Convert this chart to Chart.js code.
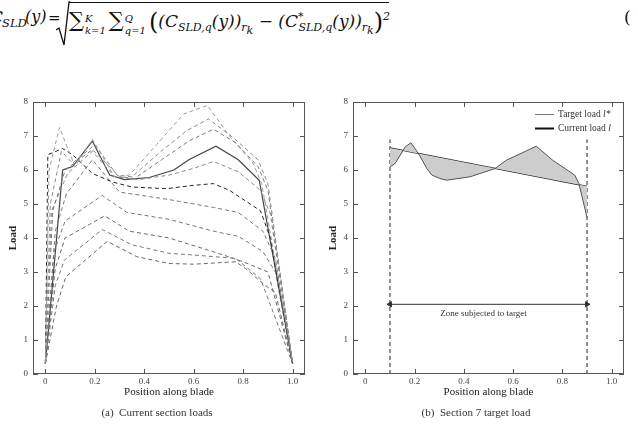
<!DOCTYPE html>
<html>
<head>
<meta charset="utf-8">
<script src="https://cdn.jsdelivr.net/npm/chart.js@4.4.1/dist/chart.umd.min.js"></script>
<style>
  html, body { margin: 0; padding: 0; background: #fff; }
  body { width: 638px; height: 424px; position: relative; overflow: hidden; font-family: 'Liberation Serif', serif; }
  .box { position: absolute; top: 80px; height: 344px; }
  .eq { position: absolute; font-family: 'DejaVu Serif', serif; font-style: italic; font-size: 17px; white-space: nowrap; color: #111; line-height: 20px; }
  .eq sub, .eq sup { font-size: 11px; }
  #rad { position: absolute; left: 56px; top: 1px; }
  #bar { position: absolute; left: 69px; top: 2px; width: 320px; border-top: 1.2px solid #111; }
  #rhs { left: 69px; top: 7px; }
  .lim { display: inline-block; font-size: 10px; line-height: 12px; vertical-align: -7px; margin: 0 3px 0 1px; }
  .sig { font-style: normal; font-size: 21px; }
  .bp { font-style: normal; font-size: 24px; vertical-align: -3px; }
  #eqno { position: absolute; left: 624px; top: 7px; font-family: 'DejaVu Serif', serif; font-size: 17px; color: #111; }
  .cap { position: absolute; top: 406px; font-size: 11px; color: #333; width: 200px; text-align: center; }
</style>
</head>
<body>
<div class="eq" style="left:-10px;top:7px">C</div>
<div class="eq" style="left:2px;top:13px;font-size:11.5px">SLD</div>
<div class="eq" style="left:25px;top:7px;font-size:16px">(y)</div>
<div class="eq" style="left:48px;top:8px;font-size:15px;font-style:normal">=</div>
<svg id="rad" width="14" height="46"><polyline points="0,29 3,27 8,44 13,1 14,1" fill="none" stroke="#111" stroke-width="1.3"/></svg>
<div id="bar"></div>
<div class="eq" id="rhs"><span class="sig">∑</span><span class="lim">K<br>k=1</span><span class="sig">∑</span><span class="lim">Q<br>q=1</span><span class="bp">(</span>(C<sub>SLD,q</sub>(y))<sub>r<sub>k</sub></sub> − (C<sup>*</sup><sub style="margin-left:-5px">SLD,q</sub>(y))<sub>r<sub>k</sub></sub><span class="bp">)</span><sup>2</sup></div>
<div id="eqno">(</div>

<div class="box" style="left:0;width:320px"><canvas id="left"></canvas></div>
<div class="box" style="left:320px;width:318px"><canvas id="right"></canvas></div>
<div class="cap" style="left:57px">(a)&nbsp; Current section loads</div>
<div class="cap" style="left:376px">(b)&nbsp; Section 7 target load</div>

<script>
// (a) section loads, one pair of arrays per curve
const curX = [0, 0.07, 0.11, 0.19, 0.26, 0.32, 0.42, 0.52, 0.58, 0.69, 0.78, 0.865, 1.0];
const curY = [0.3, 6.0, 6.1, 6.85, 5.85, 5.72, 5.78, 6.0, 6.3, 6.7, 6.3, 5.7, 0.3];

const d1X = [0, 0.015, 0.057, 0.12, 0.19, 0.28, 0.34, 0.45, 0.56, 0.655, 0.75, 0.84, 0.875, 1.0];
const d1Y = [0.4, 6.0, 7.25, 6.1, 6.9, 5.8, 5.85, 6.75, 7.65, 7.9, 6.95, 6.2, 5.6, 0.35];
const d2X = [0, 0.02, 0.065, 0.11, 0.2, 0.29, 0.35, 0.46, 0.57, 0.66, 0.76, 0.86, 0.9, 1.0];
const d2Y = [0.3, 5.0, 6.55, 6.2, 6.75, 5.85, 5.8, 6.5, 7.15, 7.5, 6.95, 6.3, 5.6, 0.3];
const d3X = [0, 0.03, 0.08, 0.19, 0.3, 0.36, 0.47, 0.58, 0.68, 0.77, 0.86, 0.9, 1.0];
const d3Y = [0.3, 4.8, 6.0, 6.6, 5.8, 5.75, 6.3, 6.85, 7.2, 6.8, 6.1, 5.4, 0.3];
const d4X = [0, 0.025, 0.09, 0.19, 0.28, 0.38, 0.5, 0.6, 0.68, 0.78, 0.87, 0.91, 1.0];
const d4Y = [0.3, 4.8, 5.9, 6.55, 5.8, 5.72, 5.85, 6.05, 6.25, 5.95, 5.4, 4.7, 0.3];
const dbX = [0, 0.01, 0.07, 0.11, 0.19, 0.27, 0.35, 0.49, 0.6, 0.68, 0.745, 0.87, 0.91, 1.0];
const dbY = [0.3, 6.45, 6.63, 6.45, 5.9, 5.65, 5.5, 5.45, 5.55, 5.6, 5.4, 4.8, 4.0, 0.3];
const d5X = [0, 0.04, 0.085, 0.19, 0.3, 0.5, 0.68, 0.78, 0.88, 0.93, 1.0];
const d5Y = [0.3, 4.2, 5.3, 6.3, 5.35, 5.13, 4.9, 4.75, 4.2, 3.4, 0.3];
const d6X = [0, 0.035, 0.08, 0.23, 0.33, 0.5, 0.68, 0.78, 0.88, 0.93, 1.0];
const d6Y = [0.3, 3.6, 4.5, 5.25, 4.75, 4.55, 4.2, 4.05, 3.6, 3.0, 0.3];
const d7X = [0, 0.04, 0.08, 0.24, 0.34, 0.5, 0.7, 0.8, 0.9, 1.0];
const d7Y = [0.3, 3.1, 4.0, 4.65, 4.2, 4.0, 3.55, 3.3, 3.0, 0.3];
const d8X = [0, 0.04, 0.077, 0.23, 0.35, 0.5, 0.6, 0.77, 0.87, 1.0];
const d8Y = [0.3, 2.6, 3.35, 4.25, 3.8, 3.55, 3.5, 3.4, 2.8, 0.3];
const d9X = [0, 0.045, 0.083, 0.25, 0.37, 0.5, 0.6, 0.77, 0.81, 0.89, 0.93, 1.0];
const d9Y = [0.3, 2.0, 2.86, 3.9, 3.45, 3.25, 3.23, 3.3, 3.1, 2.6, 2.4, 0.3];

// (b) section 7
const loadX = [0.1, 0.121, 0.162, 0.185, 0.202, 0.22, 0.25, 0.27, 0.303, 0.33, 0.425, 0.526, 0.573, 0.6, 0.694, 0.76, 0.85, 0.867, 0.9];
const loadY = [6.09, 6.19, 6.68, 6.8, 6.63, 6.43, 6.04, 5.85, 5.75, 5.7, 5.8, 6.04, 6.29, 6.38, 6.7, 6.29, 5.85, 5.6, 4.6];
const targetX = [0.1, 0.9];
const targetY = [6.65, 5.52];
const zoneX = [0.1, 0.9];
const zoneTop = [0, 6.9];
const arrowY = [2.05, 2.05];
const zoneLabel = 'Zone subjected to target';
const legendLabels = [['Target load ', 'l*'], ['Current load ', 'l']];

const pts = (xs, ys) => xs.map((x, i) => ({ x, y: ys[i] }));
const serif = 'Liberation Serif';

const frame = {
  id: 'frame',
  afterDatasetsDraw(chart) {
    const { ctx, chartArea: a, scales: { x, y } } = chart;
    const seg = (x1, y1, x2, y2) => { ctx.beginPath(); ctx.moveTo(x1, y1); ctx.lineTo(x2, y2); ctx.stroke(); };
    ctx.save();
    ctx.strokeStyle = '#555';
    ctx.lineWidth = 1;
    ctx.strokeRect(a.left + 0.5, a.top + 0.5, a.width - 1, a.height - 1);
    x.ticks.forEach(t => {
      const p = Math.round(x.getPixelForValue(t.value)) + 0.5;
      seg(p, a.bottom, p, a.bottom - 5);
      seg(p, a.top, p, a.top + 5);
    });
    y.ticks.forEach(t => {
      const p = Math.round(y.getPixelForValue(t.value)) + 0.5;
      seg(a.left, p, a.left + 5, p);
      seg(a.right, p, a.right - 5, p);
    });
    ctx.restore();
  }
};

function axes() {
  return {
    x: {
      type: 'linear', min: -0.05, max: 1.05,
      grid: { display: false, drawTicks: false }, border: { display: false },
      ticks: { stepSize: 0.2, includeBounds: false, padding: 2, color: '#444', font: { family: serif, size: 9 } },
      title: { display: true, text: 'Position along blade', color: '#222', padding: { top: 0, bottom: 3 }, font: { family: serif, size: 11 } },
      afterFit(s) { s.height = 28; }
    },
    y: {
      min: 0, max: 8,
      grid: { display: false, drawTicks: false }, border: { display: false },
      ticks: { stepSize: 1, padding: 5, color: '#444', font: { family: serif, size: 9 } },
      title: { display: true, text: 'Load', color: '#222', padding: { top: 7, bottom: 0 }, font: { family: serif, size: 11, weight: 'bold' } },
      afterFit(s) { s.width = 33; }
    }
  };
}

const common = {
  responsive: true,
  maintainAspectRatio: false,
  animation: false,
  plugins: { legend: { display: false }, tooltip: { enabled: false } },
  elements: { point: { radius: 0 }, line: { tension: 0 } }
};

const dashed = [
  [d1X, d1Y, '#9a9a9a'], [d2X, d2Y, '#8a8a8a'], [d3X, d3Y, '#7a7a7a'], [d4X, d4Y, '#8a8a8a'],
  [dbX, dbY, '#222'], [d5X, d5Y, '#777'], [d6X, d6Y, '#777'], [d7X, d7Y, '#6a6a6a'],
  [d8X, d8Y, '#777'], [d9X, d9Y, '#666']
];

new Chart(document.getElementById('left'), {
  type: 'scatter',
  data: {
    datasets: [
      ...dashed.map(([xs, ys, c]) => ({
        data: pts(xs, ys), showLine: true, borderColor: c, borderWidth: 1, borderDash: [4, 3]
      })),
      { data: pts(curX, curY), showLine: true, borderColor: '#444', borderWidth: 1.2 }
    ]
  },
  options: { ...common, layout: { padding: { top: 22, right: 15, bottom: 22, left: 0 } }, scales: axes() },
  plugins: [frame]
});

const notes = {
  id: 'notes',
  afterDatasetsDraw(chart) {
    const { ctx, chartArea: a, scales: { x, y } } = chart;
    ctx.save();
    ctx.fillStyle = '#333';
    ctx.font = `9px ${serif}`;
    ctx.textAlign = 'center';
    ctx.textBaseline = 'middle';
    ctx.fillText(zoneLabel, x.getPixelForValue(0.48), y.getPixelForValue(arrowY[0]) + 9);
    // legend, top right inside the box
    legendLabels.forEach(([txt, sym], i) => {
      const yy = a.top + 12 + i * 14;
      const x0 = a.right - 89;
      ctx.beginPath();
      ctx.strokeStyle = i === 0 ? '#777' : '#111';
      ctx.lineWidth = i === 0 ? 1 : 2;
      ctx.moveTo(x0, yy + 0.5); ctx.lineTo(x0 + 19, yy + 0.5); ctx.stroke();
      ctx.textAlign = 'left';
      ctx.font = `9.5px ${serif}`;
      ctx.fillText(txt, x0 + 23, yy);
      const w = ctx.measureText(txt).width;
      ctx.font = `italic 9.5px ${serif}`;
      ctx.fillText(sym, x0 + 23 + w, yy);
    });
    ctx.restore();
  }
};

new Chart(document.getElementById('right'), {
  type: 'scatter',
  data: {
    datasets: [
      { data: pts(loadX, loadY), showLine: true, borderColor: '#555', borderWidth: 1,
        fill: { target: 1, above: 'rgb(205,205,205)', below: 'rgb(205,205,205)' } },
      { data: pts(targetX, targetY), showLine: true, borderColor: '#222', borderWidth: 1.2 },
      { data: pts([zoneX[0], zoneX[0]], zoneTop), showLine: true, borderColor: '#222', borderWidth: 1, borderDash: [4, 3] },
      { data: pts([zoneX[1], zoneX[1]], zoneTop), showLine: true, borderColor: '#222', borderWidth: 1, borderDash: [4, 3] },
      { data: pts(zoneX, arrowY), showLine: true, borderColor: '#333', borderWidth: 1,
        pointStyle: 'triangle', pointRadius: 3, pointRotation: [-90, 90], pointBackgroundColor: '#333', pointBorderColor: '#333' }
    ]
  },
  options: { ...common, layout: { padding: { top: 22, right: 14, bottom: 22, left: 0 } }, scales: axes() },
  plugins: [frame, notes]
});
</script>
</body>
</html>
